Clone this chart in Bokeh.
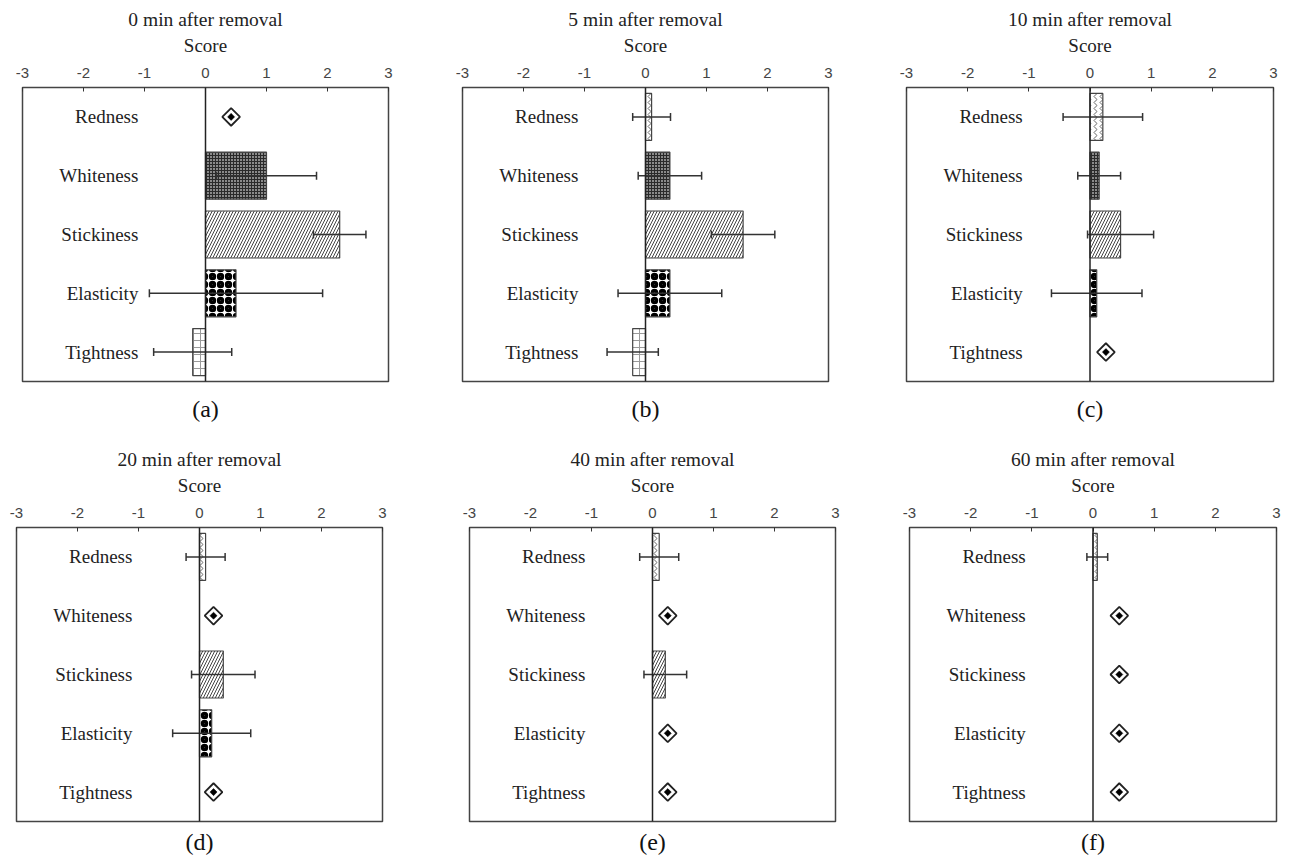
import math
from bokeh.plotting import figure
from bokeh.models import FactorRange, Range1d, FixedTicker, Span, Title, ColumnDataSource
from bokeh.layouts import column, row
from bokeh.core.properties import value
from bokeh.embed import file_html
from bokeh.resources import INLINE

# ---------------- data ----------------
cats = ["Redness", "Whiteness", "Stickiness", "Elasticity", "Tightness"]
titles = ["0 min after removal", "5 min after removal", "10 min after removal",
          "20 min after removal", "40 min after removal", "60 min after removal"]
captions = ["(a)", "(b)", "(c)", "(d)", "(e)", "(f)"]
x_ticks = [-3, -2, -1, 0, 1, 2, 3]
x_tick_labels = ["-3", "-2", "-1", "0", "1", "2", "3"]

# mean scores (None = no bar, a diamond marker is shown instead)
mean_0 = [None, 1.00, 2.20, 0.50, -0.21]
err_0 = [None, 0.82, 0.43, 1.42, 0.64]
mark_0 = [0.42, None, None, None, None]

mean_5 = [0.10, 0.40, 1.60, 0.40, -0.21]
err_5 = [0.31, 0.52, 0.52, 0.85, 0.42]
mark_5 = [None, None, None, None, None]

mean_10 = [0.21, 0.15, 0.50, 0.11, None]
err_10 = [0.65, 0.35, 0.54, 0.74, None]
mark_10 = [None, None, None, None, 0.26]

mean_20 = [0.10, None, 0.39, 0.20, None]
err_20 = [0.32, None, 0.52, 0.64, None]
mark_20 = [None, 0.23, None, None, 0.23]

mean_40 = [0.11, None, 0.21, None, None]
err_40 = [0.32, None, 0.35, None, None]
mark_40 = [None, 0.25, None, 0.25, 0.25]

mean_60 = [0.07, None, None, None, None]
err_60 = [0.17, None, None, None, None]
mark_60 = [None, 0.43, 0.43, 0.43, 0.43]

means = [mean_0, mean_5, mean_10, mean_20, mean_40, mean_60]
errs = [err_0, err_5, err_10, err_20, err_40, err_60]
marks = [mark_0, mark_5, mark_10, mark_20, mark_40, mark_60]

# ---------------- styles ----------------
hatch_styles = {
    "Redness": dict(fill_color="white", hatch_pattern="vertical_wave", hatch_scale=6, hatch_color="#666666", hatch_weight=1),
    "Whiteness": dict(fill_color="#8a8a8a", hatch_pattern="cross", hatch_scale=3, hatch_color="#2a2a2a", hatch_weight=1),
    "Stickiness": dict(fill_color="white", hatch_pattern="right_diagonal_line", hatch_scale=6, hatch_color="#444444", hatch_weight=1),
    "Elasticity": dict(fill_color="white", hatch_pattern="ring", hatch_scale=8, hatch_color="#000000", hatch_weight=3.5),
    "Tightness": dict(fill_color="white", hatch_pattern="cross", hatch_scale=7, hatch_color="#9a9a9a", hatch_weight=1),
}

# layout geometry (frame placement)
lefts = [22, 44, 48, 16, 57, 44]
rights = [30, 30, 9, 30, 30, 6]
fwidths = [366, 366, 367, 366, 366, 367]
tops = [87, 87, 87, 88, 88, 88]
bottoms = [58, 58, 58, 35, 35, 35]
cap_standoff = [24, 24, 24, 10, 10, 10]

SERIF = "Liberation Serif"
SANS = "Liberation Sans"


def make_panel(i):
    p = figure(
        x_range=Range1d(-3, 3),
        y_range=FactorRange(factors=list(reversed(cats)), range_padding=0),
        x_axis_location="above", y_axis_location=None,
        frame_width=fwidths[i], frame_height=294,
        min_border_left=lefts[i], min_border_right=rights[i],
        min_border_top=tops[i], min_border_bottom=bottoms[i],
        output_backend="svg", toolbar_location=None,
    )
    p.xgrid.visible = False
    p.ygrid.visible = False
    p.outline_line_color = "#444444"
    p.outline_line_width = 1.5
    p.background_fill_color = "white"
    p.border_fill_color = "white"

    ax = p.xaxis[0]
    ax.ticker = FixedTicker(ticks=x_ticks)
    ax.major_label_overrides = {t: s for t, s in zip(x_ticks, x_tick_labels)}
    ax.axis_line_color = None
    ax.major_tick_in = 4
    ax.major_tick_out = 0
    ax.major_tick_line_color = "#333333"
    ax.minor_tick_line_color = None
    ax.major_label_text_font = SANS
    ax.major_label_text_font_size = "15px"
    ax.major_label_text_color = "#444444"
    ax.major_label_standoff = 10
    ax.axis_label = "Score"
    ax.axis_label_text_font = SERIF
    ax.axis_label_text_font_size = "19px"
    ax.axis_label_text_font_style = "normal"
    ax.axis_label_text_color = "#222222"
    ax.axis_label_standoff = 9

    p.title.text = titles[i]
    p.title.align = "center"
    p.title.text_font = SERIF
    p.title.text_font_size = "19.5px"
    p.title.text_font_style = "normal"
    p.title.text_color = "#222222"
    p.title.standoff = 3

    # bars
    for c, m, e in zip(cats, means[i], errs[i]):
        if m is None:
            continue
        p.hbar(y=[c], left=[0], right=[m], height=0.8, line_color="#444444", line_width=1.2,
               **hatch_styles[c])

    # error bars
    ec = [c for c, m in zip(cats, means[i]) if m is not None]
    lo = [m - e for m, e in zip(means[i], errs[i]) if m is not None]
    hi = [m + e for m, e in zip(means[i], errs[i]) if m is not None]
    if ec:
        src = ColumnDataSource(dict(y=ec, lo=lo, hi=hi))
        p.segment(x0="lo", y0="y", x1="hi", y1="y", source=src, line_color="#333333", line_width=1.5)
        p.scatter(x="lo", y="y", source=src, marker="dash", angle=math.pi / 2, size=8,
                  line_color="#333333", line_width=1.5)
        p.scatter(x="hi", y="y", source=src, marker="dash", angle=math.pi / 2, size=8,
                  line_color="#333333", line_width=1.5)

    # diamond markers
    mc = [c for c, v in zip(cats, marks[i]) if v is not None]
    mv = [v for v in marks[i] if v is not None]
    if mc:
        p.scatter(x=mv, y=mc, marker="square", angle=math.pi / 4, size=12.5,
                  fill_color="white", line_color="#222222", line_width=1.8)
        p.scatter(x=mv, y=mc, marker="square", angle=math.pi / 4, size=5,
                  fill_color="black", line_color="black", line_width=0.5)

    # zero line
    p.add_layout(Span(location=0, dimension="height", line_color="#222222", line_width=1.5))

    # category labels inside the frame
    p.text(x=[-1.1] * len(cats), y=cats, text=cats, text_align="right", text_baseline="middle",
           text_font=value(SERIF), text_font_size="19px", text_color="#222222")

    cap = Title(text=captions[i], align="center", text_font=SERIF, text_font_size="24px",
                text_font_style="normal", text_color="#111111", standoff=cap_standoff[i])
    p.add_layout(cap, "below")
    return p


panels = [make_panel(i) for i in range(6)]
layout = column(row(*panels[:3]), row(*panels[3:]))

open("out.html", "w").write(file_html(layout, INLINE))
